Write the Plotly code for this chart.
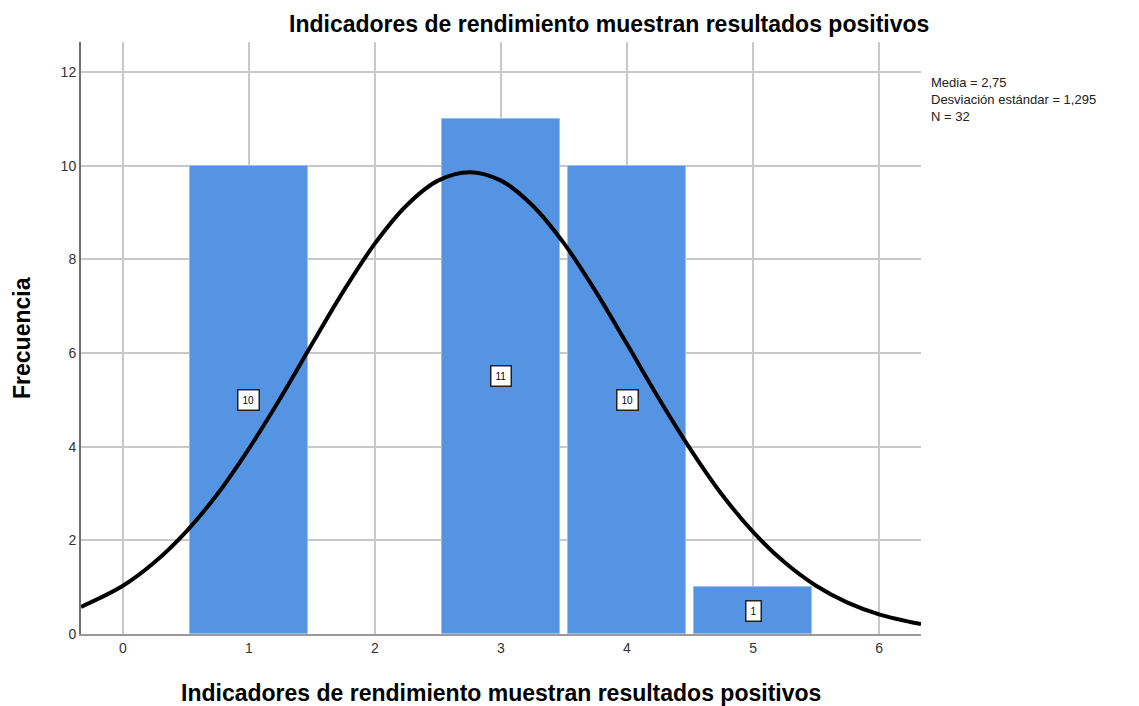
import plotly.graph_objects as go

# Histogram data
categories = [1, 2, 3, 4, 5]
frequencies = [10, 0, 11, 10, 1]

# Normal curve points
curve_x = [-0.333, 0, 0.25, 0.5, 0.75, 1, 1.25, 1.5, 1.75, 2, 2.25, 2.5, 2.75, 3, 3.25,
           3.5, 3.75, 4, 4.25, 4.5, 4.75, 5, 5.25, 5.5, 5.75, 6, 6.333]
curve_y = [0.58, 1.03, 1.53, 2.18, 2.99, 3.96, 5.04, 6.19, 7.32, 8.34, 9.15, 9.68, 9.86, 9.68, 9.15,
           8.34, 7.32, 6.19, 5.04, 3.96, 2.99, 2.18, 1.53, 1.03, 0.67, 0.42, 0.21]

stats_text = ["Media = 2,75", "Desviación estándar = 1,295", "N = 32"]
title_text = "Indicadores de rendimiento muestran resultados positivos"
y_title = "Frecuencia"

FONT = "Liberation Sans, Arial, sans-serif"

bar_x = [c for c, f in zip(categories, frequencies) if f > 0]
bar_y = [f for f in frequencies if f > 0]

fig = go.Figure()
fig.add_trace(go.Bar(
    x=bar_x, y=bar_y, width=0.94,
    marker=dict(color="#5594E3", line=dict(color="#9CC0EE", width=1)),
    showlegend=False, hoverinfo="skip",
))
fig.add_trace(go.Scatter(
    x=curve_x, y=curve_y, mode="lines", line=dict(color="black", width=4, shape="spline", smoothing=1),
    showlegend=False, hoverinfo="skip",
))

for c, f in zip(bar_x, bar_y):
    fig.add_annotation(
        x=c, y=f / 2, text=str(f), showarrow=False,
        font=dict(family=FONT, size=10, color="black"),
        bgcolor="white", bordercolor="#222", borderwidth=1.5, borderpad=4,
    )

fig.add_annotation(
    xref="paper", yref="paper", x=1.01, y=0.948, xanchor="left", yanchor="top",
    text="<br>".join(stats_text), showarrow=False, align="left",
    font=dict(family=FONT, size=13, color="#222"),
)
fig.add_annotation(
    xref="paper", yref="paper", x=0.6286, y=1.0, yshift=18, xanchor="center", yanchor="middle",
    text="<b>" + title_text + "</b>", showarrow=False,
    font=dict(family=FONT, size=23, color="black"),
)
fig.add_annotation(
    xref="paper", yref="paper", x=0.5, y=0.0, yshift=-59, xanchor="center", yanchor="middle",
    text="<b>" + title_text + "</b>", showarrow=False,
    font=dict(family=FONT, size=23, color="black"),
)
fig.add_annotation(
    xref="paper", yref="paper", x=0.0, xshift=-59, y=0.5, xanchor="center", yanchor="middle",
    text="<b>" + y_title + "</b>", showarrow=False, textangle=-90,
    font=dict(family=FONT, size=23, color="black"),
)

fig.update_layout(
    width=1139, height=706,
    margin=dict(l=81, r=218, t=42, b=72, autoexpand=False),
    paper_bgcolor="white", plot_bgcolor="white",
    font=dict(family=FONT, size=14, color="#333"),
    bargap=0,
)
fig.update_xaxes(
    range=[-0.333, 6.333], tickvals=[0, 1, 2, 3, 4, 5, 6], ticks="",
    showgrid=True, gridcolor="#C8C8C8", gridwidth=1.5,
    showline=True, linecolor="#9A9A9A", linewidth=2,
    zeroline=False, automargin=False,
    tickfont=dict(size=14, color="#333"),
)
fig.update_yaxes(
    range=[0, 12.64], tickvals=[0, 2, 4, 6, 8, 10, 12], ticks="",
    showgrid=True, gridcolor="#C8C8C8", gridwidth=1.5,
    showline=True, linecolor="#707070", linewidth=2,
    zeroline=False, automargin=False,
    tickfont=dict(size=14, color="#333"),
)

fig.write_html(
    "out.html",
    config={"displayModeBar": False},
    post_script="document.body.style.margin='0';document.body.style.overflow='hidden';",
)
